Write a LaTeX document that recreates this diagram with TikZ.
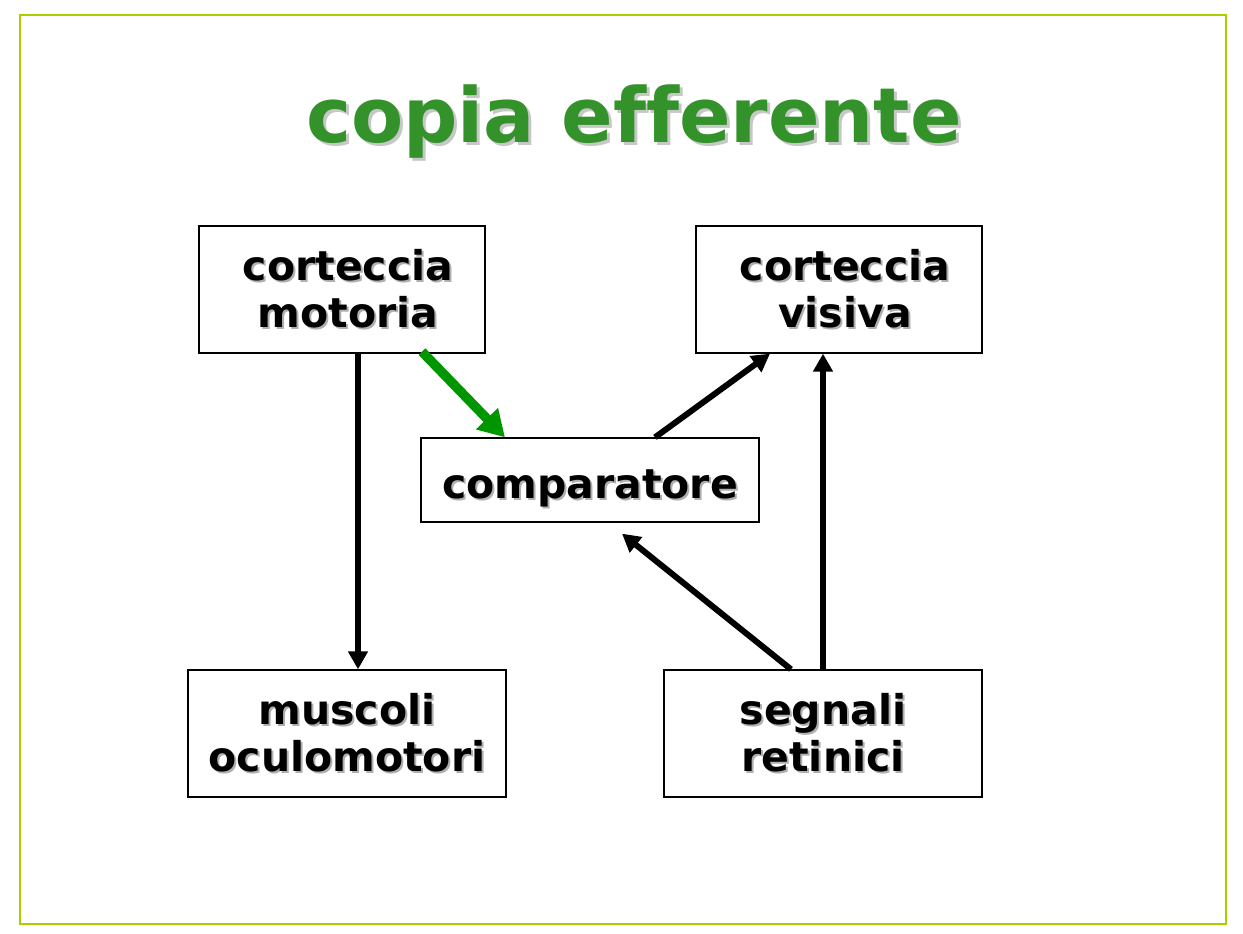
\documentclass[tikz,border=0pt]{standalone}
\usepackage{fontspec}
\setmainfont{DejaVu Sans}[Ligatures=NoCommon]
\usetikzlibrary{arrows.meta,calc}
\definecolor{slideframe}{RGB}{168,208,0}
\definecolor{titlegreen}{RGB}{52,146,42}
\definecolor{arrowgreen}{RGB}{0,150,0}
\definecolor{shadowgray}{RGB}{175,175,175}
\newcommand\shd[1]{\makebox[0pt][l]{\hspace{2pt}\raisebox{-2pt}{\textcolor{shadowgray}{#1}}}#1}
\newcommand\shdT[1]{\makebox[0pt][l]{\hspace{3pt}\raisebox{-3pt}{\textcolor{shadowgray!70}{#1}}}#1}
\tikzset{
  box/.style={draw, line width=1.3pt, rectangle, inner sep=0pt, align=center,
    font=\fontsize{41}{47}\selectfont\bfseries},
  blk/.style={line width=6pt, -{Triangle[length=18pt,width=19pt]}},
  grn/.style={line width=9.5pt, draw=arrowgreen, -{Triangle[length=26pt,width=29pt,fill=arrowgreen]}},
}
\begin{document}
\begin{tikzpicture}[x=1pt,y=-1pt]
\useasboundingbox (0,0) rectangle (1243,934);
\draw[draw=slideframe, line width=2pt] (19.5,15.5) rectangle (1225.5,923.5);
\node[anchor=base, text=titlegreen, font=\fontsize{76}{86}\selectfont\bfseries] (title) at (634,142) {\shdT{copia efferente}};
\node[box, minimum width=286pt, minimum height=127pt] (mot) at (342,289.5) {\hspace*{12pt}\shd{corteccia}\\\hspace*{12pt}\shd{motoria}};
\node[box, minimum width=286pt, minimum height=127pt] (vis) at (839,289.5) {\hspace*{12pt}\shd{corteccia}\\\hspace*{12pt}\shd{visiva}};
\node[box, minimum width=338pt, minimum height=84pt, text height=46pt, text depth=10pt] (comp) at (590,480) {\shd{comparatore}};
\node[box, minimum width=318pt, minimum height=127pt] (mus) at (347,733.5) {\shd{muscoli}\\\shd{oculomotori}};
\node[box, minimum width=318pt, minimum height=127pt] (seg) at (823,733.5) {\shd{segnali}\\\shd{retinici}};
\draw[blk] ([xshift=16pt]mot.south) -- ([xshift=11pt]mus.north);
\draw[grn] ([xshift=80pt,yshift=2pt]mot.south) -- ([xshift=-85pt]comp.north);
\draw[blk] ([xshift=65pt]comp.north) -- ([xshift=-69pt]vis.south);
\draw[blk] (seg.north) -- ([xshift=-16pt]vis.south);
\draw[blk] ([xshift=-32pt]seg.north) -- ([xshift=32pt,yshift=-11pt]comp.south);
\end{tikzpicture}
\end{document}
